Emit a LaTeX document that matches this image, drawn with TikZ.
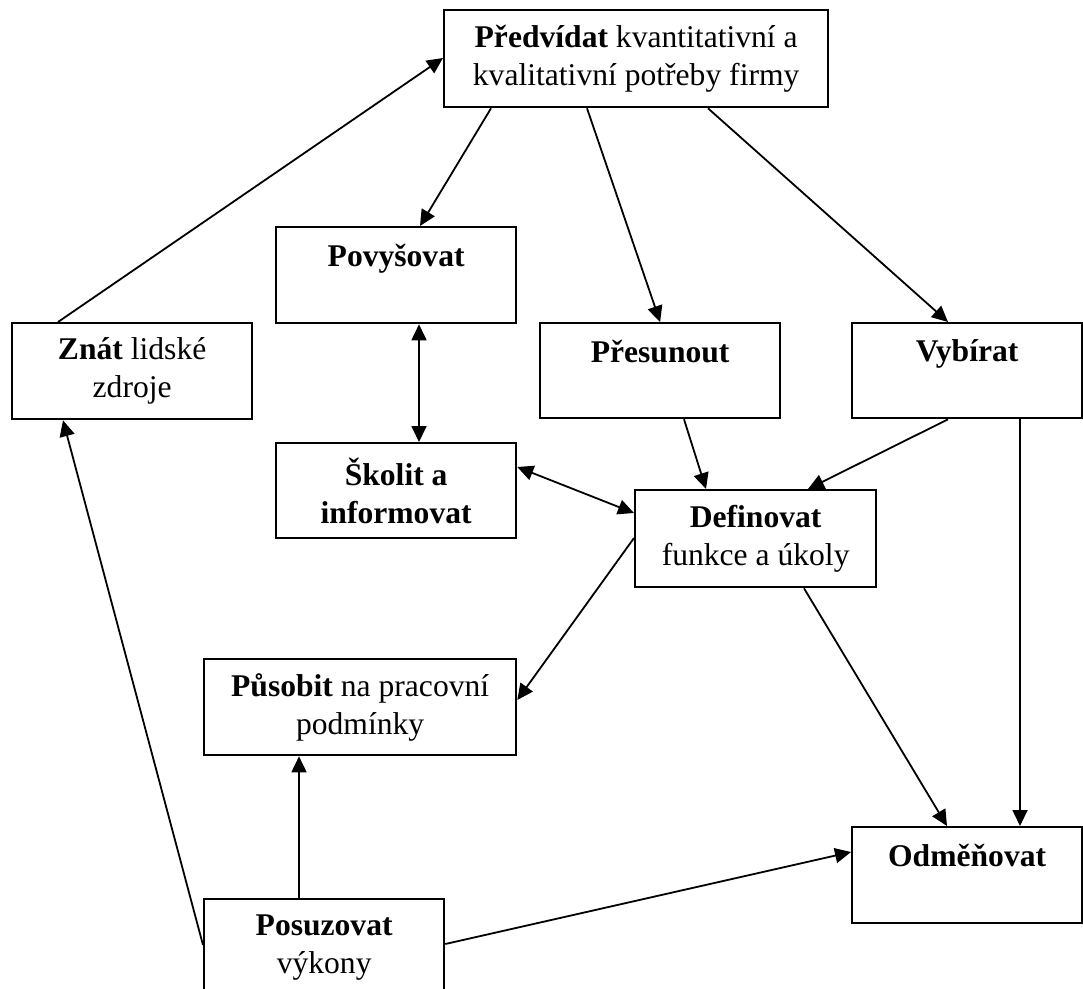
\documentclass[tikz,border=0pt]{standalone}
\usepackage{fontspec}
\setmainfont{Liberation Serif}
\usetikzlibrary{arrows.meta}
\begin{document}
\begin{tikzpicture}[x=1pt,y=-1pt,
  box/.style={draw, line width=2.3pt, inner sep=0pt, align=center, anchor=north west,
    font=\fontsize{31.6}{38}\selectfont},
  conn/.style={line width=1.8pt, -{Triangle[length=16pt,width=15pt]}},
  dconn/.style={line width=1.8pt, {Triangle[length=16pt,width=15pt]}-{Triangle[length=16pt,width=15pt]}}]
\useasboundingbox[fill=white] (0,0) rectangle (1083,988);

\node[box, minimum width=384pt, minimum height=97pt] (pred) at (443,9)
  {\textbf{Předvídat} kvantitativní a\\kvalitativní potřeby firmy};
\node[box, minimum width=240pt, minimum height=96pt] (povys) at (275,226)
  {\textbf{Povyšovat}\\[-10pt]\strut};
\node[box, minimum width=240pt, minimum height=96pt] (znat) at (11,322)
  {\textbf{Znát} lidské\\zdroje};
\node[box, minimum width=240pt, minimum height=95pt] (pres) at (539,322)
  {\textbf{Přesunout}\\[-10pt]\strut};
\node[box, minimum width=230pt, minimum height=95pt] (vyb) at (851,322)
  {\textbf{Vybírat}\\[-10pt]\strut};
\node[box, minimum width=240pt, minimum height=95pt] (skol) at (275,442)
  {\textbf{Školit a}\\\textbf{informovat}};
\node[box, minimum width=241pt, minimum height=97pt] (defn) at (634,489)
  {\textbf{Definovat}\\funkce a úkoly};
\node[box, minimum width=312pt, minimum height=96pt] (pus) at (203,658)
  {\textbf{Působit} na pracovní\\podmínky};
\node[box, minimum width=230pt, minimum height=96pt] (odm) at (851,826)
  {\textbf{Odměňovat}\\[-10pt]\strut};
\node[box, minimum width=240pt, minimum height=96pt] (posu) at (203,898)
  {\textbf{Posuzovat}\\výkony};

\draw[conn] ([xshift=47pt]znat.north west) -- ([yshift=-49pt]pred.north west);
\draw[conn] ([xshift=48pt]pred.south west) -- ([xshift=145pt]povys.north west);
\draw[conn] ([xshift=144pt]pred.south west) -- (pres.north);
\draw[conn] ([xshift=265pt]pred.south west) -- ([xshift=97pt]vyb.north west);
\draw[dconn] ([xshift=144pt]povys.south west) -- ([xshift=144pt]skol.north west);
\draw[dconn] ([yshift=-25pt]skol.north east) -- ([yshift=-24pt]defn.north west);
\draw[conn] ([xshift=145pt]pres.south west) -- ([xshift=72pt]defn.north west);
\draw[conn] ([xshift=97pt]vyb.south west) -- ([xshift=174pt]defn.north west);
\draw[conn] ([xshift=169pt]vyb.south west) -- ([xshift=169pt]odm.north west);
\draw[conn] ([yshift=-49pt]defn.north west) -- ([yshift=-42pt]pus.north east);
\draw[conn] ([xshift=170pt]defn.south west) -- ([xshift=96pt]odm.north west);
\draw[conn] ([xshift=96pt]posu.north west) -- ([xshift=96pt]pus.south west);
\draw[conn] ([yshift=-47pt]posu.north west) -- ([xshift=52pt]znat.south west);
\draw[conn] ([yshift=-46pt]posu.north east) -- ([yshift=-26pt]odm.north west);
\end{tikzpicture}
\end{document}
